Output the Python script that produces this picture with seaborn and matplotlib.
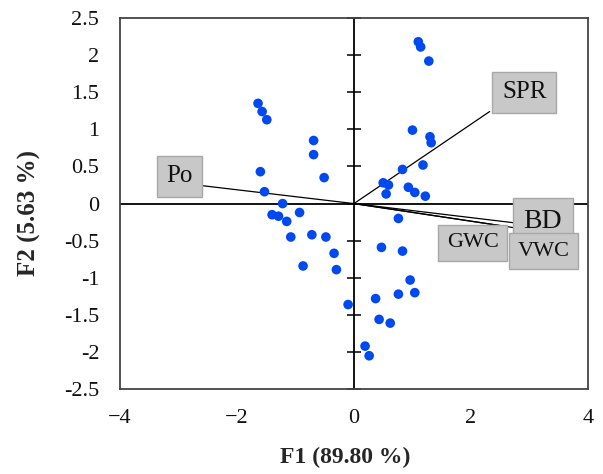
import numpy as np
import pandas as pd
import matplotlib
matplotlib.use('Agg')
import matplotlib.pyplot as plt
import seaborn as sns

f1_scores = [-1.64, -1.57, -1.49, -0.69, -0.69, -0.51, -1.60, -1.53, -1.22, -1.40,
             -1.29, -1.15, -0.93, -1.08, -0.72, -0.48, -0.34, -0.87, -0.30, -0.10,
             1.10, 1.14, 1.28, 1.00, 1.30, 1.32, 0.83, 1.18, 0.50, 0.59,
             0.55, 0.93, 1.04, 1.22, 0.76, 0.47, 0.83, 0.96, 1.04, 0.76,
             0.37, 0.43, 0.62, 0.19, 0.26]
f2_scores = [1.35, 1.24, 1.13, 0.85, 0.66, 0.35, 0.43, 0.16, 0.00, -0.15,
             -0.17, -0.24, -0.12, -0.45, -0.42, -0.45, -0.67, -0.84, -0.89, -1.36,
             2.18, 2.11, 1.92, 0.99, 0.90, 0.82, 0.46, 0.52, 0.28, 0.25,
             0.13, 0.22, 0.15, 0.10, -0.20, -0.59, -0.64, -1.03, -1.20, -1.22,
             -1.28, -1.56, -1.61, -1.92, -2.05]

# Variable vectors (end points of the loading lines)
variables = ['Po', 'SPR', 'BD', 'GWC', 'VWC']
load_f1 = [-2.58, 2.32, 2.75, 2.62, 2.78]
load_f2 = [0.24, 1.24, -0.26, -0.31, -0.33]

x_ticks = [-4, -2, 0, 2, 4]
y_ticks = [-2.5, -2, -1.5, -1, -0.5, 0, 0.5, 1, 1.5, 2, 2.5]

# where the label boxes sit (layout only)
label_pos = {'Po': (-2.98, 0.37), 'SPR': (2.91, 1.50), 'BD': (3.23, -0.24),
             'GWC': (2.03, -0.53), 'VWC': (3.24, -0.64)}
label_size = {'Po': 18, 'SPR': 18, 'BD': 20, 'GWC': 16, 'VWC': 16}

scores = pd.DataFrame({'F1': f1_scores, 'F2': f2_scores})

sns.set_style('white')
plt.rcParams['font.family'] = ['Liberation Serif', 'DejaVu Serif']
plt.rcParams['axes.unicode_minus'] = False

fig = plt.figure(figsize=(6.03, 4.74), dpi=100)
ax = fig.add_axes([0.199, 0.179, 0.776, 0.783])

# loading lines
for name, lx, ly in zip(variables, load_f1, load_f2):
    ax.plot([0, lx], [0, ly], color='black', lw=0.9, zorder=2)

sns.scatterplot(data=scores, x='F1', y='F2', ax=ax, color='#0048F0',
                s=48, edgecolor='none', zorder=3)

for name in variables:
    px, py = label_pos[name]
    ax.text(px, py, name, ha='center', va='center', fontsize=label_size[name],
            color='#111111', zorder=4,
            bbox=dict(boxstyle='square,pad=0.38', facecolor='#c8c8c8',
                      edgecolor='#a8a8a8', linewidth=1))

# centre axes lines
ax.axhline(0, color='black', lw=1.3, zorder=1)
ax.axvline(0, color='black', lw=1.3, zorder=1)

ax.set_xlim(-4, 4)
ax.set_ylim(-2.5, 2.5)
ax.set_xticks(x_ticks)
ax.set_yticks(y_ticks)
ax.set_xticklabels([f'{v:g}'.replace('-', '\u2212') for v in x_ticks])
ax.set_yticklabels([f'{v:g}' for v in y_ticks])
ax.tick_params(axis='both', length=0, labelsize=16, colors='#111111')
ax.tick_params(axis='x', pad=14)
ax.tick_params(axis='y', pad=15)

# tick marks sit on the vertical centre line
sec = ax.secondary_yaxis(0.5)
sec.set_yticks(y_ticks)
sec.tick_params(direction='inout', length=10, width=1.1, labelleft=False,
                labelright=False, color='black')
sec.spines['left'].set_visible(False)
sec.spines['right'].set_visible(False)

for sp in ax.spines.values():
    sp.set_visible(True)
    sp.set_color('#444444')
    sp.set_linewidth(1.3)

ax.set_xlabel('F1 (89.80 %)', fontsize=17, fontweight='bold')
ax.set_ylabel('F2 (5.63 %)', fontsize=18, fontweight='bold')
ax.yaxis.set_label_coords(-0.168, 0.474)
ax.xaxis.set_label_coords(0.481, -0.155)

plt.savefig('out.png', dpi=100)
